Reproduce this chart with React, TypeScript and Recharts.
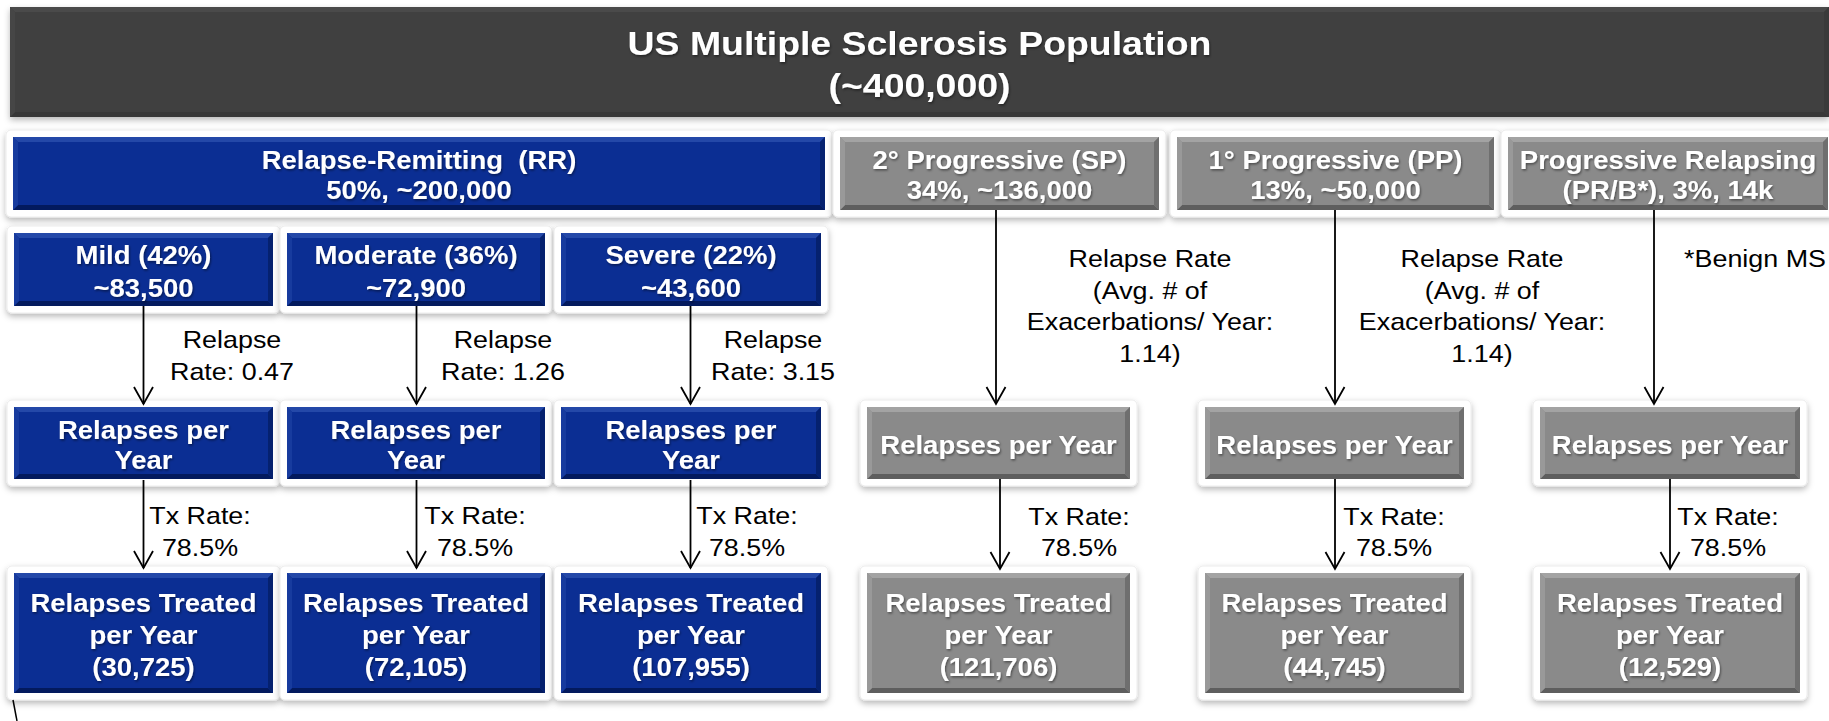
import React from 'react';
import { ComposedChart, XAxis, YAxis, ReferenceArea, ReferenceLine, Scatter } from 'recharts';

// ---------- data ----------
const totalPopulation = 400000;
const courseNames = ['Relapse-Remitting  (RR)', '2° Progressive (SP)', '1° Progressive (PP)', 'Progressive Relapsing'];
const courseDetails = ['50%, ~200,000', '34%, ~136,000', '13%, ~50,000', '(PR/B*), 3%, 14k'];
const rrSeverities = ['Mild', 'Moderate', 'Severe'];
const rrShares = [42, 36, 22];
const rrPatients = [83500, 72900, 43600];
const rrRelapseRates = [0.47, 1.26, 3.15];
const progressiveRelapseRate = 1.14;
const treatmentRate = 78.5;
const rrTreated = [30725, 72105, 107955];
const progressiveTreated = [121706, 44745, 12529];

// ---------- layout (axis units) ----------
const W = 1829;
const H = 721;
const titleBox = { x1: 10, x2: 1829, y1: 7, y2: 117 };
const courseCols = [[13, 825], [840, 1159], [1177, 1494], [1508, 1828]];
const courseRow = [137, 210];
const blueCols = [[14, 273], [287, 545], [561, 821]];
const grayCols = [[867, 1130], [1205, 1464], [1540, 1800]];
const severityRow = [233, 306];
const relapsesRow = [407, 479];
const treatedRow = [573, 693];
const blueArrowX = [143.5, 416.5, 690.5];
const grayTopArrowX = [996, 1335, 1654];
const grayBottomArrowX = [1000, 1335, 1670];
const relapseLabelX = [232, 503, 773];
const txLabelBlueX = [200, 475, 747];
const txLabelGrayX = [1079, 1394, 1728];
const rateLabelGrayX = [1150, 1482];

const fmt = (n: number) => n.toLocaleString('en-US');
const FONT = '"Liberation Sans", Arial, sans-serif';

const tones: Record<string, any> = {
  blue: { fill: '#0b2e93', top: '#2448a8', bottom: '#031a5e', left: '#173b9e', right: '#05216f' },
  gray: { fill: '#8a8a8a', top: '#a3a3a3', bottom: '#5e5e5e', left: '#999999', right: '#6f6f6f' },
  dark: { fill: '#404040', top: '#4a4a4a', bottom: '#383838', left: '#464646', right: '#3a3a3a' },
};

function Lines({ cx, cy, lines, size, gap, color, weight, anchor = 'middle', stretch = 1.1, shadow = false }: any) {
  const n = lines.length;
  return (
    <g filter={shadow ? 'url(#textShadow)' : undefined}>
      {lines.map((t: string, i: number) => (
        <text
          key={i}
          transform={`translate(${cx},${cy + (i - (n - 1) / 2) * gap}) scale(${stretch},1)`}
          x={0}
          y={0}
          dy="0.35em"
          textAnchor={anchor}
          fontFamily={FONT}
          fontSize={size}
          fontWeight={weight}
          fill={color}
          style={{ whiteSpace: 'pre' }}
        >
          {t}
        </text>
      ))}
    </g>
  );
}

function BevelBox(props: any) {
  const { x, y, width: w, height: h, tone, lines, size = 25, gap = 31, frame = true, textDy = 2 } = props;
  const c = tones[tone];
  const b = 5;
  return (
    <g>
      {frame ? (
        <rect x={x - 7} y={y - 7} width={w + 14} height={h + 14} rx={5} fill="#ffffff" stroke="#ececec" filter="url(#boxShadow)" />
      ) : (
        <rect x={x} y={y} width={w} height={h} fill={c.fill} filter="url(#boxShadow)" />
      )}
      <rect x={x} y={y} width={w} height={h} fill={c.fill} />
      <polygon points={`${x},${y} ${x + w},${y} ${x + w - b},${y + b} ${x + b},${y + b}`} fill={c.top} />
      <polygon points={`${x},${y + h} ${x + w},${y + h} ${x + w - b},${y + h - b} ${x + b},${y + h - b}`} fill={c.bottom} />
      <polygon points={`${x},${y} ${x + b},${y + b} ${x + b},${y + h - b} ${x},${y + h}`} fill={c.left} />
      <polygon points={`${x + w},${y} ${x + w - b},${y + b} ${x + w - b},${y + h - b} ${x + w},${y + h}`} fill={c.right} />
      <Lines cx={x + w / 2} cy={y + h / 2 + textDy} lines={lines} size={size} gap={gap} color="#ffffff" weight="bold" stretch={1.1} shadow />
    </g>
  );
}

function Arrow(props: any) {
  const { x1, y1, x2, y2 } = props;
  const ang = Math.atan2(y2 - y1, x2 - x1);
  const L = 17;
  const Wd = 9.5;
  const bx = x2 - L * Math.cos(ang);
  const by = y2 - L * Math.sin(ang);
  const px = -Math.sin(ang) * Wd;
  const py = Math.cos(ang) * Wd;
  return (
    <g>
      <line x1={x1} y1={y1} x2={x2} y2={y2} stroke="#000" strokeWidth={1.8} />
      <polyline points={`${bx + px},${by + py} ${x2},${y2} ${bx - px},${by - py}`} fill="none" stroke="#000" strokeWidth={1.8} />
    </g>
  );
}

type Lbl = { x: number; y: number; lines: string[]; anchor?: string };
const labelPoints: Lbl[] = [
  ...rrRelapseRates.map((r, i) => ({ x: relapseLabelX[i], y: 355.5, lines: ['Relapse', `Rate: ${r.toFixed(2)}`] })),
  ...txLabelBlueX.map((x) => ({ x, y: 531.5, lines: ['Tx Rate:', `${treatmentRate}%`] })),
  ...txLabelGrayX.map((x) => ({ x, y: 532, lines: ['Tx Rate:', `${treatmentRate}%`] })),
  ...rateLabelGrayX.map((x) => ({
    x,
    y: 306,
    lines: ['Relapse Rate', '(Avg. # of', 'Exacerbations/ Year:', `${progressiveRelapseRate})`],
  })),
  { x: 1826, y: 259, lines: ['*Benign MS'], anchor: 'end' },
];

const LabelShape = (p: any) => {
  const d = p.payload as Lbl;
  return <Lines cx={p.cx} cy={p.cy} lines={d.lines} size={24} gap={31.5} color="#000000" weight="normal" anchor={d.anchor || 'middle'} stretch={1.12} />;
};

export default function App() {
  const boxes: any[] = [];
  boxes.push({ ...titleBox, tone: 'dark', lines: ['US Multiple Sclerosis Population', `(~${fmt(totalPopulation)})`], size: 34, gap: 42, frame: false });
  courseCols.forEach(([a, b], i) =>
    boxes.push({ x1: a, x2: b, y1: courseRow[0], y2: courseRow[1], tone: i === 0 ? 'blue' : 'gray', lines: [courseNames[i], courseDetails[i]], gap: 30 })
  );
  blueCols.forEach(([a, b], i) => {
    boxes.push({ x1: a, x2: b, y1: severityRow[0], y2: severityRow[1], tone: 'blue', lines: [`${rrSeverities[i]} (${rrShares[i]}%)`, `~${fmt(rrPatients[i])}`], gap: 33 });
    boxes.push({ x1: a, x2: b, y1: relapsesRow[0], y2: relapsesRow[1], tone: 'blue', lines: ['Relapses per', 'Year'], gap: 30 });
    boxes.push({ x1: a, x2: b, y1: treatedRow[0], y2: treatedRow[1], tone: 'blue', lines: ['Relapses Treated', 'per Year', `(${fmt(rrTreated[i])})`], gap: 32 });
  });
  grayCols.forEach(([a, b], i) => {
    boxes.push({ x1: a, x2: b, y1: relapsesRow[0], y2: relapsesRow[1], tone: 'gray', lines: ['Relapses per Year'], gap: 30 });
    boxes.push({ x1: a, x2: b, y1: treatedRow[0], y2: treatedRow[1], tone: 'gray', lines: ['Relapses Treated', 'per Year', `(${fmt(progressiveTreated[i])})`], gap: 32 });
  });

  const arrows: any[] = [];
  blueArrowX.forEach((x) => {
    arrows.push([{ x, y: severityRow[1] }, { x, y: relapsesRow[0] - 3 }]);
    arrows.push([{ x, y: relapsesRow[1] + 1 }, { x, y: treatedRow[0] - 5 }]);
  });
  grayTopArrowX.forEach((x) => arrows.push([{ x, y: courseRow[1] }, { x, y: relapsesRow[0] - 3 }]));
  grayBottomArrowX.forEach((x) => arrows.push([{ x, y: relapsesRow[1] }, { x, y: treatedRow[0] - 4 }]));

  return (
    <div style={{ position: 'absolute', left: 0, top: 0, width: W, height: H, background: '#ffffff' }}>
      <svg width={0} height={0} style={{ position: 'absolute' }}>
        <defs>
          <filter id="boxShadow" x="-10%" y="-20%" width="120%" height="150%">
            <feDropShadow dx={0} dy={3} stdDeviation={3} floodColor="#000000" floodOpacity={0.28} />
          </filter>
          <filter id="textShadow" x="-5%" y="-20%" width="110%" height="140%">
            <feDropShadow dx={1} dy={1.5} stdDeviation={0.8} floodColor="#000000" floodOpacity={0.45} />
          </filter>
        </defs>
      </svg>
      <ComposedChart width={W} height={H} margin={{ top: 0, right: 0, bottom: 0, left: 0 }} data={[]}>
        <XAxis type="number" dataKey="x" domain={[0, W]} allowDataOverflow hide />
        <YAxis type="number" dataKey="y" domain={[0, H]} allowDataOverflow reversed hide />
        {boxes.map((bx, i) => (
          <ReferenceArea
            key={`box${i}`}
            x1={bx.x1}
            x2={bx.x2}
            y1={bx.y1}
            y2={bx.y2}
            ifOverflow="visible"
            shape={(p: any) => <BevelBox {...p} tone={bx.tone} lines={bx.lines} size={bx.size} gap={bx.gap} frame={bx.frame !== false} />}
          />
        ))}
        {arrows.map((seg, i) => (
          <ReferenceLine key={`ar${i}`} segment={seg} ifOverflow="visible" shape={(p: any) => <Arrow {...p} />} />
        ))}
        <ReferenceLine segment={[{ x: 13, y: 700 }, { x: 17, y: 721 }]} ifOverflow="visible" stroke="#000" strokeWidth={1.5} />
        <Scatter data={labelPoints} dataKey="y" isAnimationActive={false} shape={LabelShape} />
      </ComposedChart>
    </div>
  );
}
